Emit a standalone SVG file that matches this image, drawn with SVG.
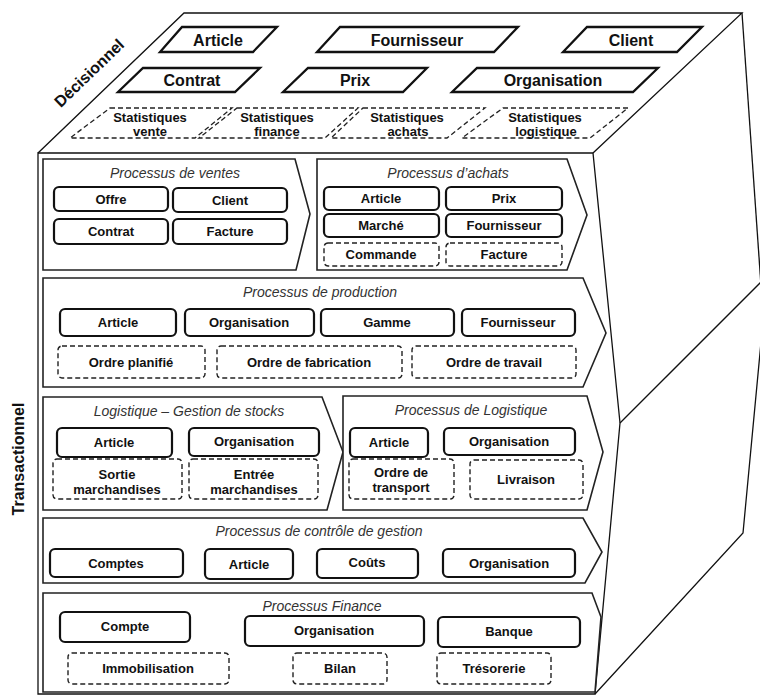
<svg xmlns="http://www.w3.org/2000/svg" width="760" height="695" viewBox="0 0 760 695">
  <style>
    .edge{fill:none;stroke:#111;stroke-width:1.3;stroke-linejoin:miter}
    .panel{fill:#fff;stroke:#222;stroke-width:1.6;stroke-linejoin:miter}
    .box{fill:#fff;stroke:#111;stroke-width:2.2}
    .dbox{fill:#fff;stroke:#222;stroke-width:1.4;stroke-dasharray:5 3}
    .pg{fill:#fff;stroke:#111;stroke-width:2.3;stroke-linejoin:miter}
    .pgd{fill:none;stroke:#222;stroke-width:1.3;stroke-dasharray:5 3}
    text{font-family:"Liberation Sans",Arial,sans-serif;text-anchor:middle;fill:#111}
    .lbl{font-size:13px;font-weight:bold}
    .big{font-size:16px;font-weight:bold}
    .ttl{font-size:14px;font-style:italic;fill:#333}
    .axis{font-size:16px;font-weight:bold}
  </style>

  <!-- cube outline -->
  <g id="cube">
    <path class="edge" d="M38,153 L184,13 H742 L593,153"/>
    <path class="edge" d="M38,153 H593 L620,423 L595,694 H38 Z"/>
    <path class="edge" d="M742,13 L762,300"/>
    <path class="edge" d="M620,423 L765,278"/>
    <path class="edge" d="M595,694 L743,533 L765,300"/>
  </g>

  <!-- layer captions -->
  <g id="axis-labels">
    <text class="axis" transform="translate(93,77) rotate(-44)">Décisionnel</text>
    <text class="axis" transform="translate(24,459) rotate(-90)">Transactionnel</text>
  </g>

  <!-- decision layer (top face) -->
  <g id="top-article"><path class="pg" d="M182,27 H277 L253,52 H160 Z"/><text class="big" x="218" y="46">Article</text></g>
  <g id="top-fournisseur"><path class="pg" d="M340,27 H518 L494,52 H317 Z"/><text class="big" x="417" y="46">Fournisseur</text></g>
  <g id="top-client"><path class="pg" d="M587,27 H702 L677,52 H563 Z"/><text class="big" x="631" y="46">Client</text></g>
  <g id="top-contrat"><path class="pg" d="M143,68 H260 L235,92 H118 Z"/><text class="big" x="192" y="86">Contrat</text></g>
  <g id="top-prix"><path class="pg" d="M308,68 H427 L403,92 H283 Z"/><text class="big" x="355" y="86">Prix</text></g>
  <g id="top-organisation"><path class="pg" d="M477,68 H658 L633,92 H452 Z"/><text class="big" x="553" y="86">Organisation</text></g>

  <g id="stat-vente"><path class="pgd" d="M110,108 H232 L195,138 H70 Z"/><text class="lbl" x="150" y="122">Statistiques</text><text class="lbl" x="150" y="136">vente</text></g>
  <g id="stat-finance"><path class="pgd" d="M237,108 H358 L325,138 H199 Z"/><text class="lbl" x="277" y="122">Statistiques</text><text class="lbl" x="277" y="136">finance</text></g>
  <g id="stat-achats"><path class="pgd" d="M363,108 H485 L447,138 H331 Z"/><text class="lbl" x="407" y="122">Statistiques</text><text class="lbl" x="408" y="136">achats</text></g>
  <g id="stat-logistique"><path class="pgd" d="M503,108 H628 L590,138 H462 Z"/><text class="lbl" x="545" y="122">Statistiques</text><text class="lbl" x="546" y="136">logistique</text></g>

  <!-- transactional layer (front face) -->
  <g id="proc-ventes">
    <path class="panel" d="M43,159 H295 L310,214 L296,270 H43 Z"/>
    <text class="ttl" x="175" y="178">Processus de ventes</text>
    <rect class="box" x="54" y="187" width="114" height="24" rx="5"/><text class="lbl" x="111" y="203.5">Offre</text>
    <rect class="box" x="173" y="188" width="114" height="24" rx="5"/><text class="lbl" x="230" y="204.5">Client</text>
    <rect class="box" x="54" y="219" width="114" height="25" rx="5"/><text class="lbl" x="111" y="236">Contrat</text>
    <rect class="box" x="173" y="219" width="114" height="25" rx="5"/><text class="lbl" x="230" y="236">Facture</text>
  </g>

  <g id="proc-achats">
    <path class="panel" d="M317,159 H567 L587,215 L567,270 H317 Z"/>
    <text class="ttl" x="448" y="178">Processus d’achats</text>
    <rect class="box" x="324" y="187" width="115" height="23" rx="5"/><text class="lbl" x="381" y="203">Article</text>
    <rect class="box" x="446" y="187" width="116" height="23" rx="5"/><text class="lbl" x="504" y="203">Prix</text>
    <rect class="box" x="324" y="214" width="115" height="23" rx="5"/><text class="lbl" x="381" y="230">Marché</text>
    <rect class="box" x="446" y="214" width="116" height="23" rx="5"/><text class="lbl" x="504" y="230">Fournisseur</text>
    <rect class="dbox" x="324" y="243" width="115" height="23" rx="4"/><text class="lbl" x="381" y="259">Commande</text>
    <rect class="dbox" x="446" y="243" width="116" height="23" rx="4"/><text class="lbl" x="504" y="259">Facture</text>
  </g>

  <g id="proc-production">
    <path class="panel" d="M43,278 H583 L606,333 L583,387 H43 Z"/>
    <text class="ttl" x="320" y="297">Processus de production</text>
    <rect class="box" x="60" y="309" width="116" height="27" rx="5"/><text class="lbl" x="118" y="327">Article</text>
    <rect class="box" x="185" y="309" width="129" height="27" rx="5"/><text class="lbl" x="249" y="327">Organisation</text>
    <rect class="box" x="321" y="309" width="133" height="27" rx="5"/><text class="lbl" x="387" y="327">Gamme</text>
    <rect class="box" x="462" y="309" width="113" height="27" rx="5"/><text class="lbl" x="518" y="327">Fournisseur</text>
    <rect class="dbox" x="58" y="346" width="147" height="32" rx="4"/><text class="lbl" x="131" y="366.5">Ordre planifié</text>
    <rect class="dbox" x="217" y="346" width="185" height="32" rx="4"/><text class="lbl" x="309" y="366.5">Ordre de fabrication</text>
    <rect class="dbox" x="412" y="346" width="164" height="32" rx="4"/><text class="lbl" x="494" y="366.5">Ordre de travail</text>
  </g>

  <g id="proc-stocks">
    <path class="panel" d="M43,397 H322 L343,452 L327,510 H43 Z"/>
    <text class="ttl" x="189" y="416">Logistique – Gestion de stocks</text>
    <rect class="box" x="57" y="428" width="115" height="29" rx="5"/><text class="lbl" x="114" y="447">Article</text>
    <rect class="box" x="189" y="428" width="130" height="28" rx="5"/><text class="lbl" x="254" y="446">Organisation</text>
    <rect class="dbox" x="53" y="459" width="129" height="40" rx="4"/><text class="lbl" x="117" y="479">Sortie</text><text class="lbl" x="117" y="494">marchandises</text>
    <rect class="dbox" x="189" y="459" width="129" height="40" rx="4"/><text class="lbl" x="254" y="479">Entrée</text><text class="lbl" x="254" y="494">marchandises</text>
  </g>

  <g id="proc-logistique">
    <path class="panel" d="M343,396 H587 L603,452 L587,510 H343 Z"/>
    <text class="ttl" x="471" y="415">Processus de Logistique</text>
    <rect class="box" x="350" y="428" width="78" height="29" rx="5"/><text class="lbl" x="389" y="447">Article</text>
    <rect class="box" x="444" y="428" width="131" height="27" rx="5"/><text class="lbl" x="509" y="446">Organisation</text>
    <rect class="dbox" x="349" y="459" width="105" height="40" rx="4"/><text class="lbl" x="401" y="477">Ordre de</text><text class="lbl" x="401" y="492">transport</text>
    <rect class="dbox" x="470" y="460" width="113" height="39" rx="4"/><text class="lbl" x="526" y="484">Livraison</text>
  </g>

  <g id="proc-controle">
    <path class="panel" d="M43,518 H583 L602,552 L585,583 H43 Z"/>
    <text class="ttl" x="319" y="536">Processus de contrôle de gestion</text>
    <rect class="box" x="50" y="549" width="133" height="28" rx="5"/><text class="lbl" x="116" y="567.5">Comptes</text>
    <rect class="box" x="205" y="549" width="88" height="30" rx="5"/><text class="lbl" x="249" y="568.5">Article</text>
    <rect class="box" x="317" y="549" width="101" height="29" rx="5"/><text class="lbl" x="367" y="567">Coûts</text>
    <rect class="box" x="443" y="549" width="132" height="28" rx="5"/><text class="lbl" x="509" y="567.5">Organisation</text>
  </g>

  <g id="proc-finance">
    <path class="panel" d="M43,593 H592 L601,617 L595,692 H43 Z"/>
    <text class="ttl" x="322" y="611">Processus Finance</text>
    <rect class="box" x="60" y="612" width="130" height="30" rx="5"/><text class="lbl" x="125" y="631">Compte</text>
    <rect class="box" x="245" y="616" width="179" height="30" rx="5"/><text class="lbl" x="334" y="635">Organisation</text>
    <rect class="box" x="438" y="617" width="142" height="30" rx="5"/><text class="lbl" x="509" y="636">Banque</text>
    <rect class="dbox" x="68" y="653" width="161" height="31" rx="4"/><text class="lbl" x="148" y="673">Immobilisation</text>
    <rect class="dbox" x="293" y="653" width="94" height="31" rx="4"/><text class="lbl" x="340" y="673">Bilan</text>
    <rect class="dbox" x="437" y="653" width="114" height="31" rx="4"/><text class="lbl" x="494" y="673">Trésorerie</text>
  </g>
</svg>
